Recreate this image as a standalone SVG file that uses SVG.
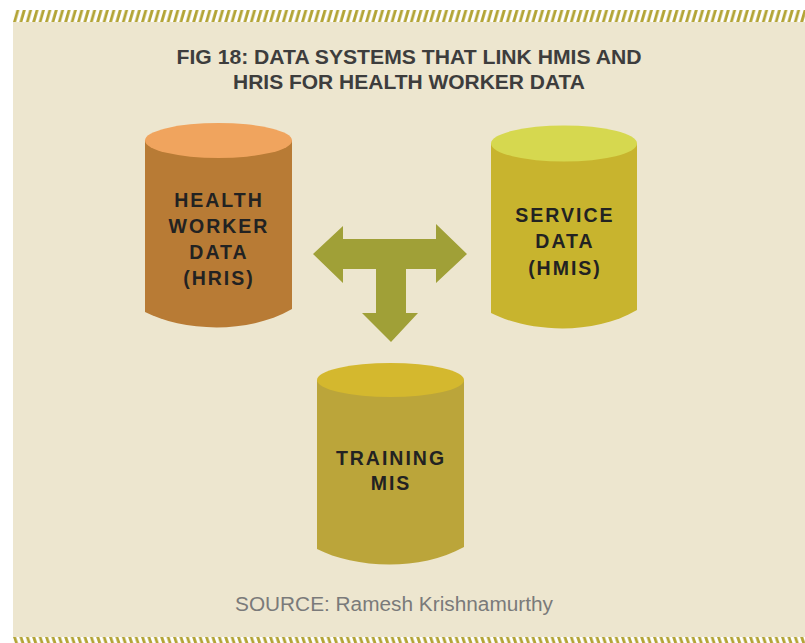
<svg xmlns="http://www.w3.org/2000/svg" width="805" height="643" viewBox="0 0 805 643">
<defs>
<pattern id="hatchTop" patternUnits="userSpaceOnUse" width="6.4" height="12" x="13" y="10">
<polygon points="0,12 3,12 6.4,0 3.4,0" fill="#b3a436"/>
<polygon points="6.4,12 9.4,12 12.8,0 9.8,0" fill="#b3a436"/>
<polygon points="-6.4,12 -3.4,12 0,0 -3,0" fill="#b3a436"/>
</pattern>
<pattern id="hatchBot" patternUnits="userSpaceOnUse" width="6.4" height="6" x="13" y="637">
<polygon points="0,0 3,0 5,6 2,6" fill="#b3a436"/>
<polygon points="6.4,0 9.4,0 11.4,6 8.4,6" fill="#b3a436"/>
<polygon points="-6.4,0 -3.4,0 -1.4,6 -4.4,6" fill="#b3a436"/>
</pattern>
<style>
.t{font-family:"Liberation Sans",Arial,sans-serif;font-weight:bold;fill:#222222;font-size:19.5px;letter-spacing:2px;text-anchor:middle}
.title{font-family:"Liberation Sans",Arial,sans-serif;font-weight:bold;fill:#3d3d3d;font-size:19.5px;text-anchor:middle}
.src{font-family:"Liberation Sans",Arial,sans-serif;fill:#7a7a7a;font-size:20px;text-anchor:middle}
</style>
</defs>
<rect x="0" y="0" width="805" height="643" fill="#ffffff"/>
<rect x="13" y="10" width="792" height="12" fill="url(#hatchTop)"/>
<rect x="13" y="22" width="792" height="615" fill="#ede6cf"/>
<rect x="13" y="637" width="792" height="6" fill="url(#hatchBot)"/>

<text class="title" x="409" y="64" textLength="465" lengthAdjust="spacingAndGlyphs">FIG 18: DATA SYSTEMS THAT LINK HMIS AND</text>
<text class="title" x="409" y="89" textLength="352" lengthAdjust="spacingAndGlyphs">HRIS FOR HEALTH WORKER DATA</text>

<g id="connectors">
<polygon fill="#a0a037" points="313,254 343,226 343,239 436,239 436,224 467,254 436,283 436,269 406,269 406,313 418,313 391,342 362,313 376,313 376,269 343,269 343,283"/>
</g>

<g id="node-hris">
<path d="M145,140 L145,312 C180,330 245,336 292,309 L292,140 Z" fill="#b87b35"/>
<ellipse cx="218.5" cy="140.5" rx="73.5" ry="17.5" fill="#f0a45e"/>
<text class="t" x="219" y="207">HEALTH</text>
<text class="t" x="219" y="233">WORKER</text>
<text class="t" x="219" y="259">DATA</text>
<text class="t" x="219" y="285">(HRIS)</text>
</g>

<g id="node-hmis">
<path d="M491,143 L491,313 C526,331 591,337 637,310 L637,143 Z" fill="#c8b42e"/>
<ellipse cx="564" cy="143.5" rx="73" ry="18" fill="#d6d84f"/>
<text class="t" x="565" y="222">SERVICE</text>
<text class="t" x="565" y="248">DATA</text>
<text class="t" x="565" y="275">(HMIS)</text>
</g>

<g id="node-training">
<path d="M317,380 L317,549 C352,567 417,573 464,547 L464,380 Z" fill="#bba53a"/>
<ellipse cx="390.5" cy="380" rx="73.5" ry="17" fill="#d4b82e"/>
<text class="t" x="391" y="465">TRAINING</text>
<text class="t" x="391" y="490">MIS</text>
</g>

<text class="src" x="394" y="611" textLength="318" lengthAdjust="spacingAndGlyphs">SOURCE: Ramesh Krishnamurthy</text>
</svg>
